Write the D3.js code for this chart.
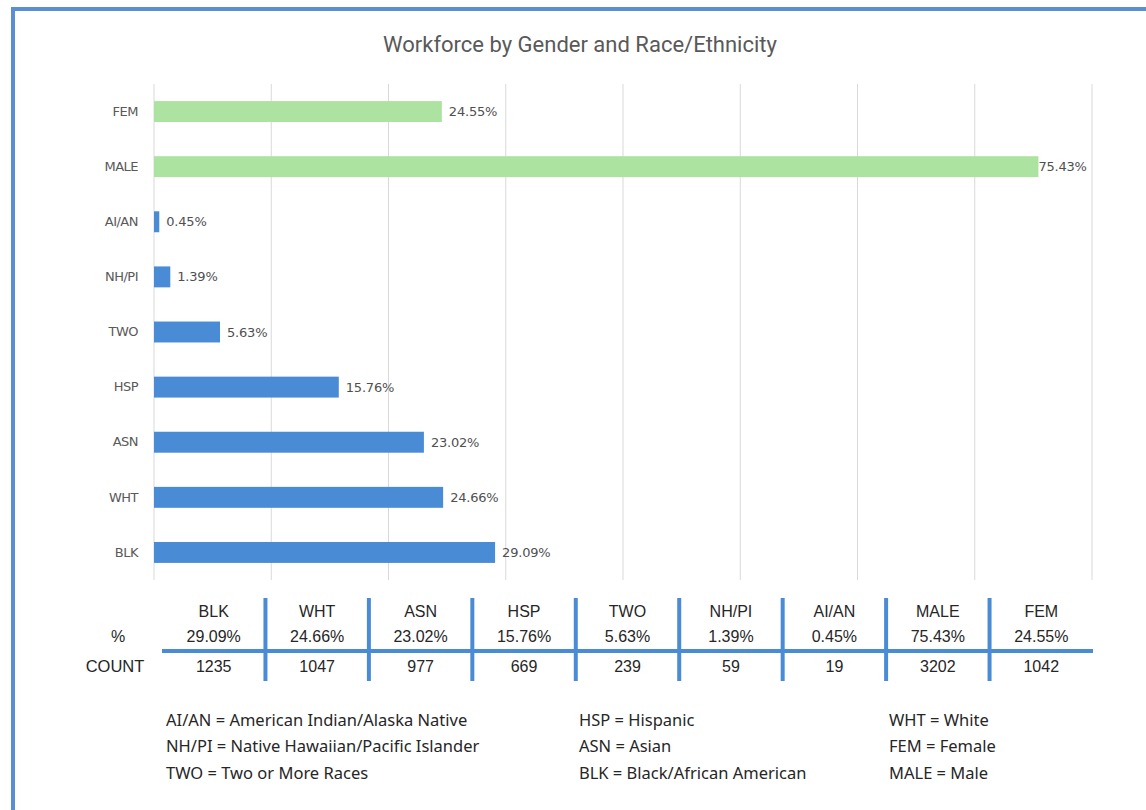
<!DOCTYPE html>
<html>
<head>
<meta charset="utf-8">
<script src="https://cdn.jsdelivr.net/npm/d3@7"></script>
<style>
  body { margin: 0; background: #fff; }
</style>
</head>
<body>
<div id="chart"></div>
<script>
// bar chart data (top to bottom)
var categories = ["FEM", "MALE", "AI/AN", "NH/PI", "TWO", "HSP", "ASN", "WHT", "BLK"];
var percents = [24.55, 75.43, 0.45, 1.39, 5.63, 15.76, 23.02, 24.66, 29.09];
var genderCats = ["FEM", "MALE"];

// table data
var tableCats = ["BLK", "WHT", "ASN", "HSP", "TWO", "NH/PI", "AI/AN", "MALE", "FEM"];
var tablePcts = ["29.09%", "24.66%", "23.02%", "15.76%", "5.63%", "1.39%", "0.45%", "75.43%", "24.55%"];
var tableCounts = [1235, 1047, 977, 669, 239, 59, 19, 3202, 1042];

// legend, column by column
var legendCol1 = ["AI/AN = American Indian/Alaska Native", "NH/PI = Native Hawaiian/Pacific Islander", "TWO = Two or More Races"];
var legendCol2 = ["HSP = Hispanic", "ASN = Asian", "BLK = Black/African American"];
var legendCol3 = ["WHT = White", "FEM = Female", "MALE = Male"];

var width = 1146, height = 810;

var svg = d3.select("#chart")
    .append("svg")
    .attr("width", width)
    .attr("height", height);

// outer frame
svg.append("rect")
    .attr("x", 13).attr("y", 9)
    .attr("width", width + 20).attr("height", height + 20)
    .attr("fill", "none")
    .attr("stroke", "#5a8fd5")
    .attr("stroke-width", 4);

svg.append("text")
    .attr("x", 580).attr("y", 52)
    .attr("text-anchor", "middle")
    .attr("font-family", "Roboto, sans-serif")
    .attr("font-size", 22)
    .attr("fill", "#595959")
    .text("Workforce by Gender and Race/Ethnicity");

var x = d3.scaleLinear().domain([0, 80]).range([154, 1092]);
var y = d3.scaleBand()
    .domain(categories)
    .range([84, 580])
    .paddingInner(0.62)
    .paddingOuter(0.31);

// vertical gridlines
svg.append("g")
    .selectAll("line")
    .data(x.ticks(8))
    .enter()
    .append("line")
    .attr("x1", function(d) { return x(d); })
    .attr("x2", function(d) { return x(d); })
    .attr("y1", 84).attr("y2", 580)
    .attr("stroke", "#d9d9d9")
    .attr("stroke-width", 1);

// category labels
var yAxis = svg.append("g")
    .attr("transform", "translate(" + (x(0) - 8) + ",0)")
    .call(d3.axisLeft(y).tickSize(0).tickPadding(8));
yAxis.select(".domain").remove();
yAxis.selectAll("text")
    .attr("font-family", "DejaVu Sans, sans-serif")
    .attr("font-size", 13)
    .attr("letter-spacing", -0.5)
    .attr("fill", "#595959");

// bars
svg.selectAll("rect.bar")
    .data(categories)
    .enter()
    .append("rect")
    .attr("class", "bar")
    .attr("x", x(0))
    .attr("y", function(d) { return y(d); })
    .attr("width", function(d, i) { return x(percents[i]) - x(0); })
    .attr("height", y.bandwidth())
    .attr("fill", function(d) { return genderCats.indexOf(d) >= 0 ? "#ade3a0" : "#4a8bd6"; });

// value labels
svg.selectAll("text.val")
    .data(categories)
    .enter()
    .append("text")
    .attr("class", "val")
    .attr("x", function(d, i) { return x(percents[i]) + (percents[i] > 50 ? 0 : 7); })
    .attr("y", function(d) { return y(d) + y.bandwidth() / 2; })
    .attr("dy", "0.35em")
    .attr("font-family", "DejaVu Sans, sans-serif")
    .attr("font-size", 13)
    .attr("letter-spacing", -0.2)
    .attr("fill", "#505050")
    .text(function(d, i) { return percents[i].toFixed(2) + "%"; });

// data table under the chart
var tx = d3.scaleBand().domain(tableCats).range([162, 1093]);
var tableFont = "Liberation Sans, Arial, sans-serif";
var tableColor = "#262626";

var table = svg.append("g");

table.append("line")
    .attr("x1", tx.range()[0]).attr("x2", tx.range()[1])
    .attr("y1", 651).attr("y2", 651)
    .attr("stroke", "#4a8bd6")
    .attr("stroke-width", 4);

table.selectAll("line.sep")
    .data(tableCats.slice(1))
    .enter()
    .append("line")
    .attr("class", "sep")
    .attr("x1", function(d) { return tx(d); })
    .attr("x2", function(d) { return tx(d); })
    .attr("y1", 598).attr("y2", 681)
    .attr("stroke", "#4a8bd6")
    .attr("stroke-width", 4);

var rowsY = [617, 642, 672];
var rowData = [tableCats, tablePcts, tableCounts];
rowData.forEach(function(row, r) {
    table.selectAll("text.r" + r)
        .data(row)
        .enter()
        .append("text")
        .attr("class", "r" + r)
        .attr("x", function(d, i) { return tx(tableCats[i]) + tx.bandwidth() / 2; })
        .attr("y", rowsY[r])
        .attr("text-anchor", "middle")
        .attr("font-family", tableFont)
        .attr("font-size", 16)
        .attr("fill", tableColor)
        .text(function(d) { return d; });
});

table.append("text")
    .attr("x", 118).attr("y", rowsY[1])
    .attr("text-anchor", "middle")
    .attr("font-family", tableFont)
    .attr("font-size", 16)
    .attr("fill", tableColor)
    .text("%");

table.append("text")
    .attr("x", 115).attr("y", rowsY[2])
    .attr("text-anchor", "middle")
    .attr("font-family", tableFont)
    .attr("font-size", 16.5)
    .attr("fill", tableColor)
    .text("COUNT");

// abbreviation legend
var legendX = [166, 579, 889];
var legendY = [726, 752, 779];
[legendCol1, legendCol2, legendCol3].forEach(function(col, c) {
    svg.selectAll("text.leg" + c)
        .data(col)
        .enter()
        .append("text")
        .attr("class", "leg" + c)
        .attr("x", legendX[c])
        .attr("y", function(d, i) { return legendY[i]; })
        .attr("font-family", "Noto Sans, sans-serif")
        .attr("font-size", 16.5)
        .attr("fill", "#262626")
        .text(function(d) { return d; });
});
</script>
</body>
</html>
